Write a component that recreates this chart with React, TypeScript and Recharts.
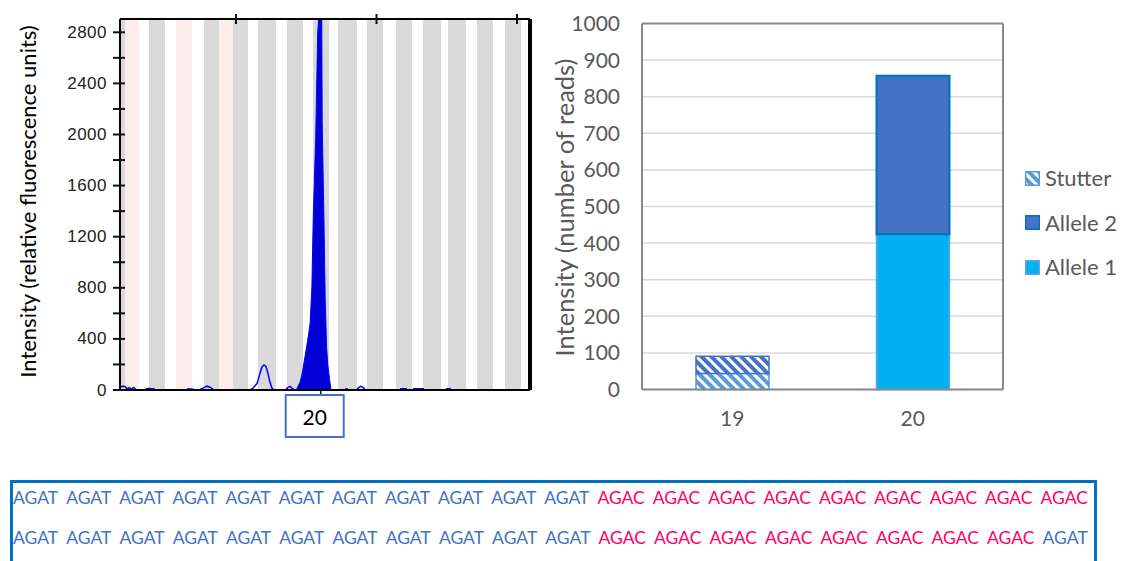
import React from 'react';
import {
  ComposedChart, Area, Line, XAxis, YAxis, ReferenceArea,
  BarChart, Bar, CartesianGrid, Legend,
} from 'recharts';

// ---------------- Electropherogram (left panel) ----------------
const EPG_X_DOMAIN: [number, number] = [83.49, 141.85]; // fragment size (bp)
const EPG_Y_DOMAIN: [number, number] = [0, 2904];
const EPG_Y_TICKS = [0, 200, 400, 600, 800, 1000, 1200, 1400, 1600, 1800, 2000, 2200, 2400, 2600, 2800];
const EPG_Y_LABEL_EVERY = 400;
const EPG_TOP_TICKS = [100, 120, 140];
const ALLELE_CALL_BP = [112.06];
const ALLELE_CALL_LABELS = ['20'];
const EPG_Y_TITLE = 'Intensity (relative fluorescence units)';

// main allele peak (filled)
const PEAK_BP = [108.6, 108.83, 109.11, 109.35, 109.58, 109.82, 110.06, 110.29, 110.55, 110.8, 111.0, 111.35, 111.63, 111.86, 112.06, 112.2, 112.27, 112.51, 112.7, 112.9, 113.08, 113.31, 113.52];
const PEAK_RFU = [0, 30, 60, 110, 180, 260, 340, 420, 520, 800, 1357, 1983, 2795, 3000, 3300, 3000, 2090, 1357, 700, 330, 190, 90, 0];

// baseline noise + stutter peak (outline only), null = no visible signal
const TRACE_BP = [
  83.6, 83.9, 84.2, 84.5, 84.8, 85.1, 85.4, 85.7, 85.9,
  87.05, 87.6, 88.0, 88.47, 88.6,
  93.02, 93.88, 94.0,
  94.88, 95.3, 95.87, 96.3, 96.73, 96.9,
  101.99, 102.42, 102.99, 103.42, 103.7, 103.98, 104.27, 104.55, 104.84, 105.12, 105.41, 105.6,
  107.12, 107.4, 107.69, 107.97, 108.26, 108.4,
  115.52, 115.94, 116.1,
  117.22, 117.5, 117.79, 118.08, 118.36, 118.5,
  123.35, 124.34, 124.5,
  125.2, 126.76, 126.9,
  129.89, 130.6, 130.8,
];
const TRACE_RFU = [
  25, 30, 28, 10, 18, 5, 20, 8, null,
  8, 12, 10, 8, null,
  8, 8, null,
  5, 15, 30, 22, 5, null,
  0, 15, 50, 130, 180, 196, 185, 130, 60, 15, 0, null,
  5, 20, 28, 15, 5, null,
  8, 8, null,
  5, 20, 28, 20, 3, null,
  10, 10, null,
  10, 10, null,
  10, 10, null,
];

// allele bins (panel stripes)
const BIN_START = [83.49, 84.2, 87.62, 91.46, 95.44, 97.58, 99.57, 103.13, 107.26, 110.96, 114.52, 118.65, 122.78, 126.62, 130.18, 134.31, 138.29];
const BIN_END = [84.2, 86.19, 89.89, 93.74, 97.58, 99.57, 101.71, 105.69, 109.54, 113.24, 117.22, 120.93, 125.05, 129.18, 132.74, 136.58, 140.57];
const BIN_KIND = ['gray', 'pink', 'gray', 'pink', 'gray', 'pink', 'gray', 'gray', 'gray', 'gray', 'gray', 'gray', 'gray', 'gray', 'gray', 'gray', 'gray'];

// ---------------- Read counts (right panel) ----------------
const READ_CATEGORIES = ['19', '20'];
const STUTTER_A1_READS = [44, 0];
const STUTTER_A2_READS = [47, 0];
const ALLELE1_READS = [0, 424];
const ALLELE2_READS = [0, 433];
const READS_Y_TICKS = [0, 100, 200, 300, 400, 500, 600, 700, 800, 900, 1000];
const READS_Y_TITLE = 'Intensity (number of reads)';
const LEGEND_ORDER = ['Stutter', 'Allele 2', 'Allele 1'];

// ---------------- Sequences ----------------
const SEQ_ROW_1 = 'AGAT AGAT AGAT AGAT AGAT AGAT AGAT AGAT AGAT AGAT AGAT AGAC AGAC AGAC AGAC AGAC AGAC AGAC AGAC AGAC'.split(' ');
const SEQ_ROW_2 = 'AGAT AGAT AGAT AGAT AGAT AGAT AGAT AGAT AGAT AGAT AGAT AGAC AGAC AGAC AGAC AGAC AGAC AGAC AGAC AGAT'.split(' ');
const MOTIF_COLORS: Record<string, string> = { AGAT: '#4472C4', AGAC: '#FF0066' };

const FONT_CAL = 'Lato, "Open Sans", sans-serif';
const FONT_EPG = '"Liberation Sans", Arial, sans-serif';

const peakData = PEAK_BP.map((bp, i) => ({ bp, rfu: PEAK_RFU[i] }));
const traceData = TRACE_BP.map((bp, i) => ({ bp, rfu: TRACE_RFU[i] }));
const readsData = READ_CATEGORIES.map((cat, i) => ({
  cat,
  stutterA1: STUTTER_A1_READS[i],
  stutterA2: STUTTER_A2_READS[i],
  allele1: ALLELE1_READS[i],
  allele2: ALLELE2_READS[i],
}));

function EpgYTick(props: any) {
  const { x, y, payload } = props;
  const v = payload.value;
  return (
    <g>
      <line x1={x + 6} x2={x + 18} y1={y} y2={y} stroke="#111" strokeWidth={2} />
      {v % EPG_Y_LABEL_EVERY === 0 && (
        <text x={x} y={y} textAnchor="end" dominantBaseline="central" fontFamily={FONT_EPG}
          fontSize={17} letterSpacing={0.5} fill="#222">{v}</text>
      )}
    </g>
  );
}

function EpgTopTick(props: any) {
  const { x, y } = props;
  return <line x1={x} x2={x} y1={y - 5} y2={y + 5} stroke="#111" strokeWidth={2} />;
}

function AlleleCallTick(props: any) {
  const { x, y, index } = props;
  return (
    <g>
      <line x1={x} x2={x} y1={y} y2={y + 5} stroke="#111" strokeWidth={1.5} />
      <rect x={x - 35} y={y + 5} width={58} height={42} fill="#fff" stroke="#4472C4" strokeWidth={2} />
      <text x={x - 6} y={y + 26} textAnchor="middle" dominantBaseline="central" fontFamily={FONT_CAL}
        fontSize={21} fill="#000">{ALLELE_CALL_LABELS[index] ?? ''}</text>
    </g>
  );
}

const rotatedLabel = (title: string, dx: number, dy: number, size: number, color: string, fallback: any) =>
  (p: any) => {
    const vb = p && p.viewBox && p.viewBox.height ? p.viewBox : fallback;
    const cx = vb.x + dx;
    const cy = vb.y + vb.height / 2 + dy;
    return (
      <text x={cx} y={cy} transform={`rotate(-90 ${cx} ${cy})`} textAnchor="middle"
        dominantBaseline="central" fontFamily={FONT_CAL} fontSize={size} fill={color}>{title}</text>
    );
  };

const renderLegend = (props: any) => {
  const items = [...(props.payload || [])]
    .filter((p: any) => LEGEND_ORDER.includes(p.value))
    .sort((a: any, b: any) => LEGEND_ORDER.indexOf(a.value) - LEGEND_ORDER.indexOf(b.value));
  return (
    <div>
      {items.map((it: any) => {
        const fill = (it.payload && it.payload.fill) || it.color;
        const stroke = (it.payload && it.payload.stroke) || it.color;
        return (
          <div key={it.value} style={{ display: 'flex', alignItems: 'center', height: 44.5 }}>
            <svg width={15} height={15} style={{ marginRight: 5, flex: 'none' }}>
              <rect x={0.75} y={0.75} width={13.5} height={13.5} fill={fill} stroke={stroke} strokeWidth={1.5} />
            </svg>
            <span style={{ fontFamily: FONT_CAL, fontSize: 22, color: '#595959', lineHeight: '22px', whiteSpace: 'nowrap' }}>{it.value}</span>
          </div>
        );
      })}
    </div>
  );
};

export default function App() {
  return (
    <div style={{ position: 'absolute', left: 0, top: 0, width: 1124, height: 561, background: '#fff', overflow: 'hidden' }}>
      <svg width={1} height={1} style={{ position: 'absolute', left: 0, top: 0 }}>
        <defs>
          <pattern id="hatchLight" patternUnits="userSpaceOnUse" width={7} height={7} patternTransform="rotate(-45)">
            <rect width={7} height={7} fill="#fff" />
            <rect width={4} height={7} fill="#5B9BD5" />
          </pattern>
          <pattern id="hatchDark" patternUnits="userSpaceOnUse" width={7} height={7} patternTransform="rotate(-45)">
            <rect width={7} height={7} fill="#fff" />
            <rect width={4} height={7} fill="#4472C4" />
          </pattern>
        </defs>
      </svg>

      {/* Left: electropherogram */}
      <div style={{ position: 'absolute', left: 0, top: 0 }}>
        <ComposedChart width={560} height={450} margin={{ top: 18, right: 29, bottom: 59, left: 0 }}>
          <XAxis xAxisId="b" dataKey="bp" type="number" domain={EPG_X_DOMAIN} allowDataOverflow
            ticks={ALLELE_CALL_BP} interval={0} tick={<AlleleCallTick />} tickLine={false}
            tickSize={0} tickMargin={0} height={1} axisLine={{ stroke: '#000', strokeWidth: 2 }} />
          <XAxis xAxisId="t" dataKey="bp" orientation="top" type="number" domain={EPG_X_DOMAIN} allowDataOverflow
            ticks={EPG_TOP_TICKS} interval={0} tick={<EpgTopTick />} tickLine={false}
            tickSize={0} tickMargin={0} height={1} axisLine={{ stroke: '#000', strokeWidth: 2 }} />
          <YAxis yAxisId="l" type="number" domain={EPG_Y_DOMAIN} allowDataOverflow ticks={EPG_Y_TICKS}
            interval={0} tick={<EpgYTick />} tickLine={false} tickSize={0} tickMargin={13} width={120}
            axisLine={{ stroke: '#000', strokeWidth: 2 }}
            label={{ content: rotatedLabel(EPG_Y_TITLE, 27.5, -3, 22, '#000', { x: 0, y: 19, width: 120, height: 371 }) }} />
          <YAxis yAxisId="r" orientation="right" type="number" domain={EPG_Y_DOMAIN} tick={false}
            tickLine={false} width={1} axisLine={{ stroke: '#000', strokeWidth: 4 }} />
          {BIN_START.map((s, i) => (
            <ReferenceArea key={i} xAxisId="b" yAxisId="l" x1={s} x2={BIN_END[i]}
              fill={BIN_KIND[i] === 'pink' ? '#FDECEC' : '#D9D9D9'} fillOpacity={1} stroke="none" ifOverflow="hidden" />
          ))}
          <Line xAxisId="b" yAxisId="l" data={traceData} dataKey="rfu" type="linear" stroke="#0000FF"
            strokeWidth={1.5} dot={false} activeDot={false} connectNulls={false} isAnimationActive={false} />
          <Area xAxisId="b" yAxisId="l" data={peakData} dataKey="rfu" type="linear" stroke="#0000FF"
            strokeWidth={1} fill="#0000D6" fillOpacity={1} dot={false} activeDot={false} isAnimationActive={false} />
        </ComposedChart>
      </div>

      {/* Right: read counts */}
      <div style={{ position: 'absolute', left: 540, top: 0 }}>
        <BarChart width={584} height={450} data={readsData} barSize={73}
          margin={{ top: 22.5, right: 120, bottom: 59.5, left: 0 }}>
          <CartesianGrid vertical={false} stroke="#D9D9D9" strokeWidth={1.5} />
          <XAxis dataKey="cat" tickLine={false} tickSize={0} tickMargin={22} height={1}
            axisLine={{ stroke: '#898989', strokeWidth: 2 }}
            tick={{ fontFamily: FONT_CAL, fontSize: 21, fill: '#595959' }} />
          <XAxis xAxisId="t" dataKey="cat" orientation="top" tick={false} tickLine={false} height={1}
            axisLine={{ stroke: '#898989', strokeWidth: 2 }} />
          <YAxis type="number" domain={[0, 1000]} ticks={READS_Y_TICKS} interval={0} width={102}
            tickLine={false} tickSize={0} tickMargin={22} axisLine={{ stroke: '#898989', strokeWidth: 2 }}
            tick={{ fontFamily: FONT_CAL, fontSize: 21, fill: '#595959' }}
            label={{ content: rotatedLabel(READS_Y_TITLE, 23.5, 1, 25.5, '#595959', { x: 0, y: 23.5, width: 102, height: 366 }) }} />
          <YAxis yAxisId="r" orientation="right" type="number" domain={[0, 1000]} tick={false}
            tickLine={false} width={1} axisLine={{ stroke: '#898989', strokeWidth: 2 }} />
          <Bar dataKey="stutterA1" name="Stutter" stackId="s" fill="url(#hatchLight)" stroke="#5B9BD5"
            strokeWidth={1.5} isAnimationActive={false} />
          <Bar dataKey="stutterA2" name="Stutter (allele 2)" legendType="none" stackId="s" fill="url(#hatchDark)"
            stroke="#4472C4" strokeWidth={1.5} isAnimationActive={false} />
          <Bar dataKey="allele1" name="Allele 1" stackId="s" fill="#00B0F0" stroke="#5BA8E0"
            strokeWidth={1.5} isAnimationActive={false} />
          <Bar dataKey="allele2" name="Allele 2" stackId="s" fill="#4472C4" stroke="#0070C0"
            strokeWidth={2} isAnimationActive={false} />
          <Legend layout="vertical" align="center" verticalAlign="middle" content={renderLegend}
            wrapperStyle={{ left: 485, top: 155.75, width: 99 }} />
        </BarChart>
      </div>

      {/* Sequence box */}
      <div style={{
        position: 'absolute', left: 10, top: 480, width: 1087, height: 100, boxSizing: 'border-box',
        borderTop: '3px solid #0070C0', borderLeft: '3px solid #0070C0', borderRight: '3px solid #0070C0',
      }} />
      {[SEQ_ROW_1, SEQ_ROW_2].map((row, r) => (
        <div key={r} style={{
          position: 'absolute', left: 13, top: r === 0 ? 488 : 528, width: 1075,
          display: 'flex', justifyContent: 'space-between',
          fontFamily: FONT_CAL, fontSize: 17.5, lineHeight: '20px', whiteSpace: 'nowrap',
        }}>
          {row.map((w, i) => <span key={i} style={{ color: MOTIF_COLORS[w] }}>{w}</span>)}
        </div>
      ))}
    </div>
  );
}
